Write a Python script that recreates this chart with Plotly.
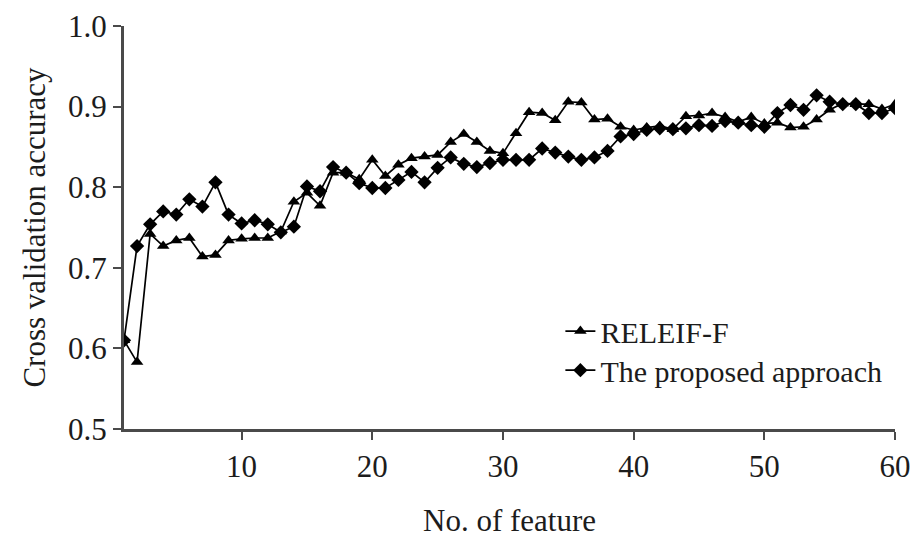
import plotly.graph_objects as go

# Number of selected features
n_features = list(range(1, 61))

# Cross-validation accuracy for each feature-subset size
releif_f = [
    0.610, 0.583, 0.742, 0.727, 0.734, 0.737, 0.714, 0.716, 0.734, 0.736,
    0.737, 0.737, 0.745, 0.782, 0.793, 0.777, 0.818, 0.818, 0.810, 0.834,
    0.814, 0.828, 0.836, 0.838, 0.840, 0.856, 0.866, 0.856, 0.845, 0.842,
    0.867, 0.893, 0.892, 0.883, 0.906, 0.905, 0.884, 0.885, 0.875, 0.871,
    0.874, 0.876, 0.872, 0.888, 0.889, 0.892, 0.887, 0.881, 0.887, 0.879,
    0.880, 0.874, 0.875, 0.884, 0.896, 0.904, 0.903, 0.903, 0.897, 0.903,
]
proposed = [
    0.610, 0.727, 0.754, 0.770, 0.766, 0.785, 0.776, 0.806, 0.766, 0.755,
    0.759, 0.754, 0.744, 0.751, 0.801, 0.795, 0.825, 0.818, 0.805, 0.799,
    0.799, 0.809, 0.819, 0.806, 0.824, 0.837, 0.829, 0.825, 0.830, 0.834,
    0.834, 0.834, 0.848, 0.843, 0.838, 0.834, 0.837, 0.845, 0.863, 0.866,
    0.871, 0.873, 0.872, 0.873, 0.877, 0.876, 0.882, 0.880, 0.877, 0.875,
    0.892, 0.902, 0.896, 0.914, 0.906, 0.903, 0.903, 0.892, 0.892, 0.898,
]

x_ticks = [10, 20, 30, 40, 50, 60]
y_ticks = [0.5, 0.6, 0.7, 0.8, 0.9, 1.0]

FONT = "Liberation Serif, Times New Roman, serif"
INK = "#1c1c1c"
AXIS = "#4a4a4a"
FS = 31
LEG_FS = 30

fig = go.Figure()
fig.add_trace(go.Scatter(
    x=n_features, y=releif_f, name="RELEIF-F", mode="lines+markers",
    line=dict(color="black", width=1.7),
    marker=dict(symbol="triangle-up", size=11, color="black"),
    legend="legend",
))
fig.add_trace(go.Scatter(
    x=n_features, y=proposed, name="The proposed approach", mode="lines+markers",
    line=dict(color="black", width=1.7),
    marker=dict(symbol="diamond", size=11, color="black"),
    legend="legend2",
))

legend_common = dict(
    xanchor="left", yanchor="middle",
    bgcolor="rgba(0,0,0,0)", borderwidth=0,
    font=dict(family=FONT, size=LEG_FS, color=INK), itemwidth=30,
)

fig.update_layout(
    width=911, height=542,
    margin=dict(l=124, r=16, t=26, b=113, autoexpand=False),
    paper_bgcolor="white", plot_bgcolor="white",
    font=dict(family=FONT, size=FS, color=INK),
    showlegend=True,
    legend=dict(x=0.566, y=0.243, **legend_common),
    legend2=dict(x=0.566, y=0.146, **legend_common),
    annotations=[dict(
        text="No. of feature", xref="paper", yref="paper",
        x=0.5, y=-0.226, xanchor="center", yanchor="middle",
        showarrow=False, font=dict(family=FONT, size=FS, color=INK),
    )],
)
fig.update_xaxes(
    range=[1, 60], tickvals=x_ticks, automargin=False,
    showgrid=False, zeroline=False,
    showline=True, linecolor=AXIS, linewidth=3,
    ticks="outside", ticklen=8, tickwidth=2, tickcolor=AXIS,
    tickfont=dict(family=FONT, size=FS, color=INK),
)
fig.update_yaxes(
    range=[0.5, 1.0], tickvals=y_ticks, tickformat=".1f", automargin=False,
    showgrid=False, zeroline=False,
    showline=True, linecolor=AXIS, linewidth=3,
    ticks="outside", ticklen=8, tickwidth=2, tickcolor=AXIS,
    tickfont=dict(family=FONT, size=FS, color=INK),
    title=dict(text="Cross validation accuracy", font=dict(family=FONT, size=FS, color=INK), standoff=14),
)

fig.write_html("out.html")
